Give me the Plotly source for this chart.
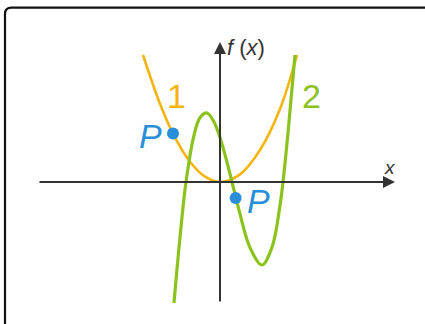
import plotly.graph_objects as go

# Curve 1 (parabola) sample points
parab_x = [-3.85, -3.0, -2.35, -1.5, -0.75, 0.05, 1.0, 2.0, 3.0, 3.85]
parab_y = [6.35, 3.91, 2.42, 1.01, 0.27, 0.0, 0.38, 1.6, 3.65, 6.35]

# Curve 2 (cubic) sample points
cubic_x = [-2.3, -2.0, -1.7, -1.3, -1.0, -0.65, -0.3, 0.0, 0.3, 0.6, 1.0, 1.5, 2.1, 2.6, 3.0, 3.15, 3.4, 3.75]
cubic_y = [-6.05, -2.77, 0.0, 2.33, 3.21, 3.45, 3.0, 2.22, 1.18, 0.0, -1.6, -3.28, -4.15, -3.26, -1.17, 0.0, 2.46, 6.35]

# Points P
p_x = [-2.35, 0.78]
p_y = [2.42, -0.8]

ORANGE = "#F5B511"
GREEN = "#8CC21E"
BLUE = "#2A8FD8"
AXIS = "#333333"

fig = go.Figure()
fig.add_trace(go.Scatter(x=parab_x, y=parab_y, mode="lines", line=dict(color=ORANGE, width=2.6, shape="spline"), hoverinfo="skip"))
fig.add_trace(go.Scatter(x=cubic_x, y=cubic_y, mode="lines", line=dict(color=GREEN, width=3.2, shape="spline"), hoverinfo="skip"))
fig.add_trace(go.Scatter(x=p_x, y=p_y, mode="markers", marker=dict(color=BLUE, size=12), hoverinfo="skip"))

# axes with arrows
fig.add_annotation(x=8.75, y=0, ax=-9.1, ay=0, xref="x", yref="y", axref="x", ayref="y",
                   showarrow=True, arrowhead=2, arrowsize=1.2, arrowwidth=2, arrowcolor=AXIS, text="")
fig.add_annotation(x=0, y=7.0, ax=0, ay=-6.05, xref="x", yref="y", axref="x", ayref="y",
                   showarrow=True, arrowhead=2, arrowsize=1.2, arrowwidth=2, arrowcolor=AXIS, text="")

# border
fig.add_shape(type="path", path="M -10.75,-9 L -10.75,8.4 Q -10.75,8.72 -10.43,8.72 L 12,8.72",
              line=dict(color="#111111", width=2.2), xref="x", yref="y")

FONT = "Liberation Sans"
fig.add_annotation(x=0.25, y=6.75, text="<i>f</i> (<i>x</i>)", showarrow=False, xanchor="left",
                   font=dict(family=FONT, size=22, color=AXIS))
fig.add_annotation(x=8.5, y=0.75, text="<i>x</i>", showarrow=False,
                   font=dict(family=FONT, size=19, color=AXIS))
fig.add_annotation(x=-3.5, y=2.28, text="<i>P</i>", showarrow=False,
                   font=dict(family=FONT, size=34, color=BLUE))
fig.add_annotation(x=1.9, y=-0.95, text="<i>P</i>", showarrow=False,
                   font=dict(family=FONT, size=34, color=BLUE))
fig.add_annotation(x=-2.2, y=4.3, text="1", showarrow=False,
                   font=dict(family=FONT, size=34, color=ORANGE))
fig.add_annotation(x=4.55, y=4.3, text="2", showarrow=False,
                   font=dict(family=FONT, size=34, color=GREEN))

fig.update_layout(width=425, height=324, margin=dict(l=0, r=0, t=0, b=0),
                  paper_bgcolor="white", plot_bgcolor="white", showlegend=False,
                  xaxis=dict(range=[-11, 10.25], visible=False, fixedrange=True),
                  yaxis=dict(range=[-7.1, 9.1], visible=False, fixedrange=True))

fig.write_html("out.html", config={"displayModeBar": False},
               post_script="document.body.style.margin='0';document.body.style.overflow='hidden';")
